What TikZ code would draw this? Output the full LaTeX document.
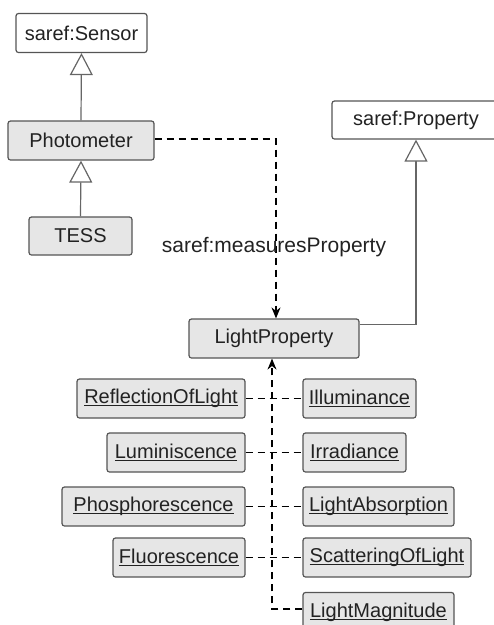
\documentclass[tikz,border=0pt]{standalone}
\usepackage{fontspec}
\setmainfont{Liberation Sans}
\usetikzlibrary{arrows.meta}
\definecolor{boxline}{HTML}{555555}
\definecolor{boxfill}{HTML}{E6E6E6}
\definecolor{genline}{HTML}{666666}
\definecolor{ink}{HTML}{222222}
% underlined individual name
\newcommand\indiv[1]{\setbox0\hbox{#1}\rlap{\rule[-2.6pt]{\wd0}{0.9pt}}\box0}
\tikzset{
  cls/.style={draw=boxline, line width=1.2pt, rounded corners=2.5pt, fill=boxfill,
    inner sep=0pt, minimum height=39pt, text=ink, font=\fontsize{20}{24}\selectfont},
  ext/.style={cls, fill=white},
  gen/.style={draw=genline, line width=1.2pt,
    -{Triangle[open, length=22pt, width=23pt, fill=white]}},
  dep/.style={draw=black, line width=1.2pt, dash pattern=on 7pt off 5pt},
  deparrow/.style={dep, -{Stealth[length=11pt, width=9pt]}},
}
\begin{document}
\begin{tikzpicture}[x=1pt, y=-1pt]
\useasboundingbox (0,0) rectangle (494,625);

% classes
\node[ext, minimum width=131pt] (sensor) at (81.5,33) {saref:Sensor};
\node[cls, minimum width=146pt] (photometer) at (81,140.5) {Photometer};
\node[cls, minimum width=103pt, minimum height=38pt] (tess) at (80.5,236) {TESS};
\node[ext, minimum width=168pt, minimum height=38pt] (property) at (416,120) {saref:Property};
\node[cls, minimum width=170pt] (lightprop) at (274,338.5) {LightProperty};

% individuals, left column
\node[cls, minimum width=168pt] (refl) at (161,398.5) {\indiv{ReflectionOfLight}};
\node[cls, minimum width=138pt] (lum) at (176,452.5) {\indiv{Luminiscence}};
\node[cls, minimum width=183pt] (phos) at (153.5,506.5) {\indiv{Phosphorescence}};
\node[cls, minimum width=132pt] (fluo) at (179,557.5) {\indiv{Fluorescence}};

% individuals, right column
\node[cls, minimum width=113pt] (illum) at (359.5,398.5) {\indiv{Illuminance}};
\node[cls, minimum width=103pt] (irr) at (354.5,452.5) {\indiv{Irradiance}};
\node[cls, minimum width=151pt] (absn) at (378.5,506.5) {\indiv{LightAbsorption}};
\node[cls, minimum width=168pt] (scat) at (387,557.5) {\indiv{ScatteringOfLight}};
\node[cls, minimum width=151pt] (mag) at (378.5,612) {\indiv{LightMagnitude}};

% generalisations
\draw[gen] (photometer.north) -- (sensor.south);
\draw[gen] (tess.north) -- (photometer.south);
\draw[gen] ([yshift=14pt]lightprop.east) -| (property.south);

% measuresProperty
\draw[deparrow] ([yshift=1.5pt]photometer.east) -| ([xshift=2pt]lightprop.north);
\node[text=ink, font=\fontsize{21}{25}\selectfont] (mlabel) at (274,247) {saref:measuresProperty};

% individuals belong to LightProperty
\draw[deparrow] ([yshift=3pt]mag.west) -| ([xshift=-2pt]lightprop.south);
\draw[dep] (refl.east) -- (illum.west);
\draw[dep] (lum.east) -- (irr.west);
\draw[dep] (phos.east) -- (absn.west);
\draw[dep] (fluo.east) -- (scat.west);
\end{tikzpicture}
\end{document}
